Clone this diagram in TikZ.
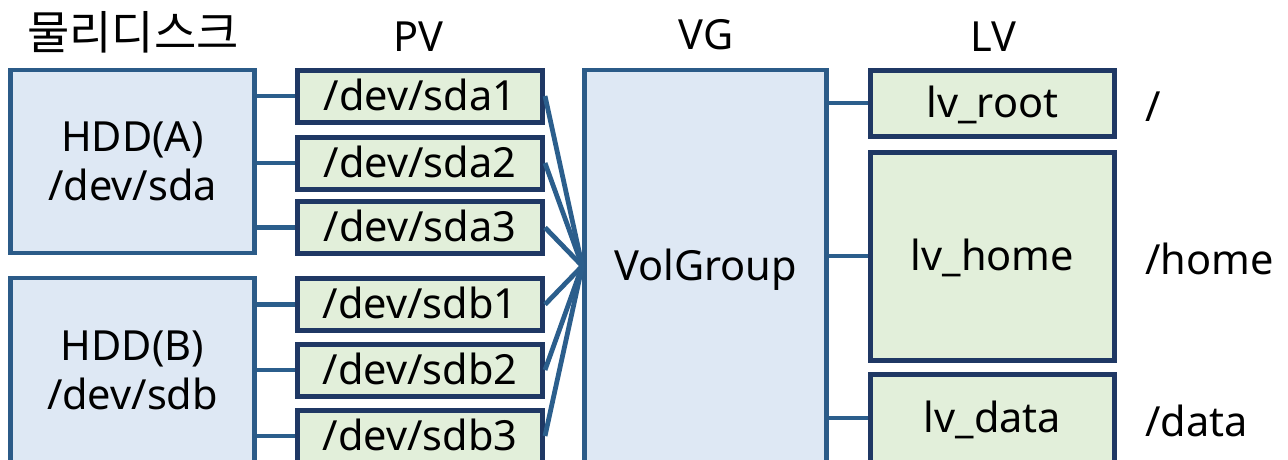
\documentclass[tikz,border=0pt]{standalone}
\usepackage{fontspec}
\setmainfont{Noto Sans}
\newfontfamily\krfont{Noto Sans CJK KR}
\definecolor{boxblue}{HTML}{DEE8F4}
\definecolor{boxgreen}{HTML}{E2EFDA}
\definecolor{edgeblue}{HTML}{2B5B88}
\definecolor{edgenavy}{HTML}{1F3864}
\definecolor{linkblue}{HTML}{2B5E8C}
\begin{document}
\begin{tikzpicture}[x=1pt,y=-1pt,
  txt/.style={font=\fontsize{41.5}{49}\selectfont, text=black},
  low/.style={text height=35pt, text depth=6.5pt},
  disk/.style={txt, draw=edgeblue, fill=boxblue, line width=4.5pt, rectangle, inner sep=0pt, align=center, minimum width=244pt},
  pvbox/.style={txt, low, draw=edgenavy, fill=boxgreen, line width=5pt, rectangle, inner sep=0pt, minimum width=245pt, minimum height=52pt},
  vgbox/.style={txt, low, draw=edgeblue, fill=boxblue, line width=4.5pt, rectangle, inner sep=0pt, minimum width=242pt, minimum height=392pt},
  lvbox/.style={txt, low, draw=edgenavy, fill=boxgreen, line width=5pt, rectangle, inner sep=0pt, minimum width=244pt},
  link/.style={draw=linkblue, line width=4.8pt},
  head/.style={txt},
  mnt/.style={txt, anchor=west, inner sep=0pt}]
\useasboundingbox (0,0) rectangle (1288,459);
\clip (0,0) rectangle (1288,459);

% titles
\node[head, font=\krfont\fontsize{46}{54}\selectfont] (t1) at (133,32) {물리디스크};
\node[head] (t2) at (418,37) {PV};
\node[head] (t3) at (706,35) {VG};
\node[head] (t4) at (993,37) {LV};

% disks
\node[disk, minimum height=183pt] (hdda) at (132.5,161.5) {HDD(A)\\/dev/sda};
\node[disk, minimum height=184pt] (hddb) at (132.5,370) {HDD(B)\\/dev/sdb};

% PVs
\node[pvbox] (sda1) at (420,96) {/dev/sda1};
\node[pvbox] (sda2) at (420,163) {/dev/sda2};
\node[pvbox] (sda3) at (420,227.5) {/dev/sda3};
\node[pvbox] (sdb1) at (420,304.5) {/dev/sdb1};
\node[pvbox] (sdb2) at (420,370) {/dev/sdb2};
\node[pvbox] (sdb3) at (420,436) {/dev/sdb3};

% VG
\node[vgbox] (vg) at (705.5,266) {VolGroup};

% LVs
\node[lvbox, minimum height=66pt] (lvroot) at (992.5,103) {lv\_root};
\node[lvbox, minimum height=208pt] (lvhome) at (992.5,256) {lv\_home};
\node[lvbox, minimum height=88pt] (lvdata) at (992.5,418) {lv\_data};

% mount points
\node[mnt] (m1) at (1145,107) {/};
\node[mnt] (m2) at (1145,259) {/home};
\node[mnt] (m3) at (1145,421) {/data};

% disk -> PV
\foreach \p in {sda1,sda2,sda3}
  \path[link] (hdda.east |- \p.west) -- (\p.west);
\foreach \p in {sdb1,sdb2,sdb3}
  \path[link] (hddb.east |- \p.west) -- (\p.west);

% PV -> VG
\foreach \p in {sda1,sda2,sda3,sdb1,sdb2,sdb3}
  \path[link] (\p.east) -- (vg.west);

% VG -> LV
\foreach \l in {lvroot,lvhome,lvdata}
  \path[link] (vg.east |- \l.west) -- (\l.west);
\end{tikzpicture}
\end{document}
